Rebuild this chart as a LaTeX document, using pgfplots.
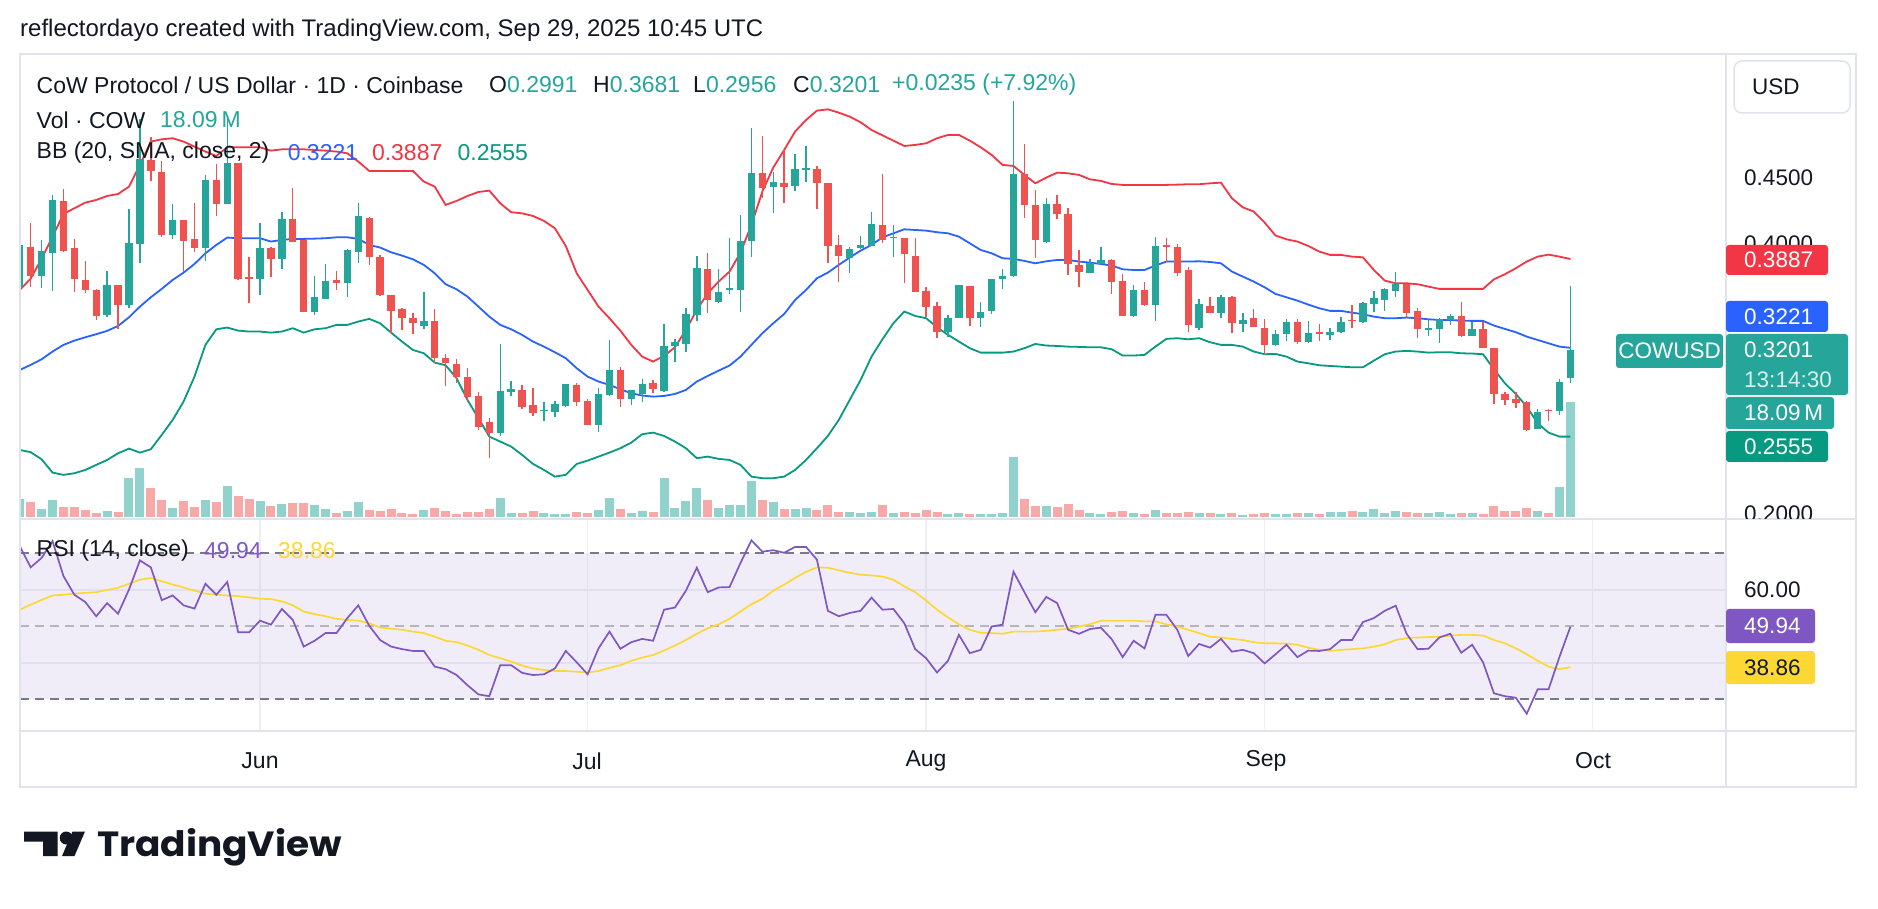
\documentclass[border=0pt]{standalone}
\usepackage{pgfplots}
\pgfplotsset{compat=1.18}
\usepackage{pgfplotstable}
\usepgfplotslibrary{fillbetween}
\usepackage{fontspec}
\setmainfont{Liberation Sans}
\newfontfamily\logofont{Poppins}

\definecolor{tvtext}{HTML}{131722}
\definecolor{cgreen}{HTML}{26A69A}
\definecolor{cred}{HTML}{EF5350}
\definecolor{vgreen}{HTML}{92D2CC}
\definecolor{vred}{HTML}{F7A9A7}
\definecolor{bbup}{HTML}{F23645}
\definecolor{bbmid}{HTML}{2962FF}
\definecolor{bblo}{HTML}{089981}
\definecolor{bbfill}{HTML}{2196F3}
\definecolor{rsic}{HTML}{7E57C2}
\definecolor{rsima}{HTML}{FDD835}
\definecolor{gridc}{HTML}{EEF0F4}
\definecolor{framec}{HTML}{E0E3EB}
\definecolor{hlinec}{HTML}{787B86}

% candles: day index (0 = 1 Jun 2025), open, high, low, close, volume (M)
\pgfplotstableread{
d o h l c v
-22 0.367 0.405 0.364 0.399 2.74
-20 0.376 0.403 0.367 0.3948 1.21
-19 0.3935 0.4365 0.365 0.433 2.64
-14 0.3468 0.380 0.345 0.369 0.90
-12 0.354 0.426 0.352 0.4005 6.17
-11 0.400 0.494 0.3855 0.4635 7.75
-8 0.4068 0.430 0.4035 0.418 1.42
-5 0.397 0.4515 0.3875 0.448 2.64
-3 0.430 0.494 0.430 0.4605 4.85
0 0.3738 0.416 0.362 0.397 2.48
2 0.389 0.424 0.3815 0.4188 2.00
5 0.3493 0.376 0.347 0.360 1.84
6 0.359 0.385 0.3585 0.372 1.21
8 0.3705 0.396 0.3605 0.3955 0.90
9 0.3943 0.431 0.3855 0.421 2.27
15 0.3388 0.3638 0.336 0.3425 1.05
22 0.258 0.325 0.2563 0.2898 3.00
23 0.2893 0.2973 0.286 0.291 0.63
26 0.2745 0.2813 0.2675 0.2758 0.63
27 0.2743 0.2825 0.2705 0.280 0.42
28 0.2788 0.295 0.2775 0.2948 0.42
31 0.2643 0.2918 0.2593 0.2875 1.05
32 0.2868 0.328 0.286 0.3055 3.00
34 0.2835 0.2905 0.2793 0.2905 0.63
35 0.2875 0.2988 0.2818 0.295 0.90
37 0.2898 0.340 0.2888 0.3235 6.17
38 0.3238 0.3285 0.3118 0.3263 1.42
39 0.325 0.3518 0.3188 0.3475 2.48
40 0.3468 0.391 0.3425 0.3818 4.58
42 0.3568 0.3813 0.3555 0.3643 1.42
43 0.3655 0.4048 0.3623 0.3668 1.84
44 0.3655 0.4218 0.3493 0.4025 1.84
45 0.4025 0.4868 0.3905 0.453 5.64
47 0.443 0.4543 0.4235 0.4463 2.27
49 0.4438 0.4675 0.44 0.4563 1.21
50 0.456 0.4735 0.4468 0.4568 1.42
54 0.3898 0.398 0.378 0.396 0.69
55 0.3968 0.406 0.396 0.3993 0.53
56 0.3988 0.4238 0.3988 0.4148 0.69
58 0.4043 0.4143 0.3905 0.4055 0.63
63 0.3343 0.3468 0.33 0.3443 0.42
64 0.3443 0.3693 0.3443 0.3693 0.53
66 0.3443 0.3568 0.3375 0.3493 0.37
67 0.3495 0.374 0.3478 0.374 0.37
68 0.3735 0.381 0.3663 0.376 0.53
69 0.376 0.507 0.3755 0.4525 9.38
72 0.4018 0.4343 0.401 0.4298 1.69
76 0.3785 0.3885 0.3785 0.386 0.53
77 0.385 0.398 0.385 0.388 0.42
80 0.346 0.3693 0.345 0.3655 0.53
82 0.3543 0.4055 0.3425 0.3985 1.05
86 0.3373 0.3588 0.3355 0.3548 0.53
88 0.348 0.3618 0.3443 0.3605 0.37
90 0.3398 0.348 0.3343 0.343 0.26
93 0.3243 0.3355 0.3238 0.3323 0.37
94 0.3323 0.3435 0.3275 0.3413 0.37
96 0.3265 0.3423 0.3255 0.333 0.53
98 0.3318 0.3373 0.328 0.3338 0.69
99 0.3338 0.3455 0.333 0.3413 0.69
101 0.3418 0.3568 0.341 0.356 0.69
102 0.3548 0.3648 0.3493 0.3593 1.21
103 0.358 0.3668 0.35 0.366 0.53
104 0.3648 0.3793 0.3605 0.3698 0.90
107 0.3355 0.3435 0.3313 0.3368 0.53
108 0.336 0.3448 0.3255 0.3438 0.69
109 0.343 0.3473 0.3393 0.346 0.37
111 0.3313 0.3413 0.3313 0.3363 0.53
117 0.2613 0.2763 0.2613 0.2738 0.90
119 0.2745 0.299 0.272 0.2966 4.74
120 0.2991 0.3681 0.2956 0.3201 18.09
}\upc

\pgfplotstableread{
d o h l c v
-21 0.398 0.4155 0.368 0.376 2.27
-18 0.432 0.441 0.394 0.395 1.58
-17 0.397 0.404 0.364 0.3735 1.58
-16 0.373 0.387 0.363 0.3655 1.05
-15 0.3655 0.366 0.343 0.346 0.63
-13 0.3695 0.3695 0.336 0.3545 0.74
-10 0.463 0.4805 0.447 0.4545 4.58
-9 0.454 0.462 0.405 0.407 2.64
-7 0.418 0.418 0.379 0.4025 2.48
-6 0.404 0.4305 0.394 0.397 1.58
-4 0.448 0.460 0.421 0.430 2.27
-2 0.4605 0.4605 0.373 0.3738 3.32
-1 0.375 0.3905 0.356 0.374 2.74
1 0.3973 0.3975 0.375 0.389 1.74
3 0.4188 0.4418 0.4018 0.4018 2.11
4 0.403 0.403 0.349 0.3493 2.11
7 0.373 0.380 0.3655 0.371 0.63
10 0.4198 0.4205 0.3843 0.390 1.05
11 0.3905 0.392 0.361 0.3618 0.90
12 0.3618 0.3618 0.333 0.350 1.21
13 0.351 0.3518 0.3355 0.3448 0.63
14 0.3443 0.3483 0.3325 0.341 0.42
16 0.3423 0.3513 0.3105 0.3143 1.42
17 0.3143 0.3173 0.2935 0.3105 0.90
18 0.310 0.3135 0.2955 0.300 0.42
19 0.300 0.307 0.2818 0.285 0.69
20 0.286 0.2888 0.2605 0.263 0.69
21 0.2668 0.2698 0.2393 0.2585 1.21
24 0.2905 0.2943 0.2763 0.278 0.63
25 0.2793 0.2923 0.2713 0.273 0.90
29 0.2943 0.2955 0.2788 0.2818 0.69
30 0.2823 0.2838 0.2643 0.2643 0.63
33 0.3055 0.3075 0.278 0.2835 1.21
36 0.2955 0.298 0.288 0.2913 0.79
41 0.381 0.393 0.3485 0.358 2.64
46 0.453 0.481 0.4343 0.4423 2.64
48 0.4455 0.4705 0.431 0.443 1.21
51 0.4563 0.4585 0.426 0.446 1.05
52 0.4455 0.4455 0.3855 0.3988 1.84
53 0.3993 0.4068 0.3718 0.3913 0.69
57 0.4143 0.4523 0.4005 0.403 1.84
59 0.4048 0.4048 0.371 0.3923 0.69
60 0.391 0.4048 0.3643 0.3643 0.53
61 0.3648 0.3678 0.3455 0.353 1.05
62 0.3535 0.3568 0.3293 0.3343 0.69
65 0.3685 0.3685 0.3388 0.3443 0.37
70 0.4525 0.4748 0.4198 0.4293 2.79
71 0.4293 0.4405 0.3898 0.403 1.69
73 0.4298 0.4368 0.4185 0.4223 1.48
74 0.4225 0.4268 0.3768 0.3848 2.00
75 0.3843 0.3955 0.3675 0.3793 1.05
78 0.388 0.3888 0.3623 0.3718 0.69
79 0.3723 0.3773 0.3463 0.3463 0.90
81 0.3655 0.3713 0.3535 0.3543 0.37
83 0.3993 0.4048 0.3863 0.398 0.53
84 0.398 0.400 0.3763 0.3785 0.53
85 0.3805 0.3825 0.3343 0.3393 0.69
87 0.3538 0.3605 0.3485 0.3485 0.53
89 0.3605 0.3613 0.333 0.3405 0.53
91 0.3443 0.3513 0.3375 0.3375 0.37
92 0.3368 0.3435 0.3168 0.3243 0.53
95 0.3413 0.3435 0.325 0.3268 0.53
97 0.3338 0.3398 0.3275 0.3325 0.37
100 0.343 0.3543 0.3373 0.3423 0.90
105 0.3698 0.3698 0.3443 0.3485 0.69
106 0.3498 0.3518 0.3298 0.336 0.53
110 0.3463 0.3568 0.3305 0.3313 0.53
112 0.3363 0.3413 0.3218 0.3218 0.37
113 0.3223 0.3223 0.2798 0.2873 1.69
114 0.2873 0.2888 0.2793 0.283 0.90
115 0.2835 0.2893 0.2768 0.2805 0.90
116 0.2813 0.2825 0.26 0.2605 1.42
118 0.2758 0.276 0.2675 0.2745 0.53
}\dnc

% Bollinger bands (20, 2): upper, basis, lower
\pgfplotstableread{
d up mid lo
-22 0.3655 0.3055 0.2455
-21 0.374 0.3093 0.2438
-20 0.389 0.3135 0.2385
-19 0.4055 0.3193 0.2285
-18 0.4225 0.3243 0.2268
-17 0.4268 0.3275 0.228
-16 0.431 0.330 0.2305
-15 0.433 0.3323 0.2343
-14 0.436 0.3348 0.238
-13 0.4375 0.3385 0.243
-12 0.443 0.345 0.2465
-11 0.4593 0.353 0.2435
-10 0.4768 0.360 0.246
-9 0.4785 0.3663 0.2568
-8 0.4793 0.373 0.268
-7 0.4768 0.3785 0.2818
-6 0.473 0.385 0.3005
-5 0.4693 0.393 0.3243
-4 0.466 0.3993 0.336
-3 0.4725 0.4048 0.3373
-2 0.4725 0.4043 0.335
-1 0.4725 0.4043 0.3343
0 0.4725 0.4043 0.3343
1 0.470 0.4018 0.3335
2 0.471 0.403 0.3343
3 0.471 0.4038 0.3368
4 0.471 0.4038 0.3335
5 0.4705 0.404 0.336
6 0.470 0.4043 0.3368
7 0.4693 0.405 0.3393
8 0.468 0.405 0.3393
9 0.4618 0.4038 0.3418
10 0.4548 0.3993 0.3438
11 0.4548 0.3973 0.3405
12 0.4548 0.3938 0.3335
13 0.4548 0.3913 0.3268
14 0.4548 0.3885 0.3205
15 0.4468 0.3843 0.318
16 0.443 0.378 0.311
17 0.4293 0.3698 0.309
18 0.4323 0.366 0.2993
19 0.436 0.3605 0.283
20 0.439 0.353 0.2693
21 0.440 0.3455 0.2555
22 0.4305 0.3393 0.2518
23 0.4238 0.336 0.248
24 0.423 0.3318 0.2418
25 0.421 0.3268 0.235
26 0.4173 0.323 0.2305
27 0.4118 0.3188 0.2255
28 0.3985 0.3143 0.2268
29 0.378 0.3068 0.235
30 0.3655 0.3005 0.2375
31 0.353 0.2968 0.2405
32 0.3443 0.2943 0.2435
33 0.335 0.291 0.2468
34 0.3243 0.288 0.251
35 0.3155 0.2863 0.2573
36 0.3118 0.2855 0.2585
37 0.316 0.286 0.256
38 0.3225 0.2875 0.2518
39 0.3355 0.2905 0.2468
40 0.3505 0.2968 0.2393
41 0.363 0.301 0.2405
42 0.3718 0.305 0.2388
43 0.3793 0.3088 0.238
44 0.3935 0.3155 0.2343
45 0.4143 0.3243 0.2255
46 0.4393 0.333 0.2243
47 0.4573 0.3405 0.2243
48 0.4705 0.3475 0.2255
49 0.4843 0.358 0.2305
50 0.493 0.3655 0.238
51 0.500 0.3743 0.2468
52 0.501 0.3785 0.256
53 0.4985 0.3843 0.268
54 0.4955 0.3898 0.283
55 0.4913 0.395 0.298
56 0.4855 0.3993 0.3155
57 0.4815 0.405 0.3285
58 0.4775 0.408 0.3405
59 0.4735 0.411 0.3493
60 0.4743 0.4105 0.346
61 0.4755 0.410 0.3443
62 0.4793 0.4088 0.3375
63 0.4818 0.408 0.3318
64 0.4818 0.4055 0.3268
65 0.4775 0.4005 0.3218
66 0.4725 0.3955 0.3185
67 0.4668 0.393 0.3185
68 0.4593 0.3893 0.3185
69 0.4585 0.3888 0.3193
70 0.4518 0.3873 0.3218
71 0.4455 0.3855 0.325
72 0.4498 0.387 0.3238
73 0.4535 0.388 0.3235
74 0.453 0.388 0.323
75 0.4518 0.3868 0.3228
76 0.4485 0.386 0.3225
77 0.4473 0.385 0.3225
78 0.445 0.3838 0.321
79 0.4443 0.381 0.3163
80 0.4443 0.3805 0.3163
81 0.4443 0.3805 0.3168
82 0.4443 0.3838 0.323
83 0.4443 0.3868 0.3288
84 0.4445 0.3868 0.3293
85 0.4448 0.3868 0.3285
86 0.4448 0.387 0.3293
87 0.4455 0.3865 0.3263
88 0.446 0.3855 0.3243
89 0.4343 0.3793 0.3243
90 0.4275 0.3755 0.323
91 0.4243 0.3718 0.3193
92 0.416 0.3675 0.3173
93 0.4063 0.3625 0.3175
94 0.4035 0.360 0.3155
95 0.4018 0.3575 0.3118
96 0.3985 0.3545 0.3105
97 0.3943 0.3518 0.309
98 0.3918 0.3498 0.3085
99 0.3918 0.3498 0.308
100 0.3905 0.3485 0.3075
101 0.390 0.3473 0.3075
102 0.3805 0.3455 0.3125
103 0.3725 0.3443 0.3173
104 0.3705 0.3443 0.3193
105 0.3705 0.3448 0.3198
106 0.3698 0.3443 0.3193
107 0.368 0.3435 0.3185
108 0.3663 0.343 0.3188
109 0.3663 0.343 0.3188
110 0.3663 0.3425 0.318
111 0.3663 0.3423 0.3178
112 0.3663 0.3423 0.3173
113 0.3735 0.3388 0.306
114 0.3773 0.3363 0.2955
115 0.3818 0.3338 0.2875
116 0.3868 0.3305 0.278
117 0.3905 0.328 0.2655
118 0.392 0.3255 0.2585
119 0.3905 0.323 0.2555
120 0.3887 0.3221 0.2555
}\bbt

% RSI (14) and its moving average
\pgfplotstableread{
d rsi ma
-22 72.0 54.6
-21 66.2 56.0
-20 68.8 57.3
-19 73.4 58.5
-18 63.8 58.7
-17 58.7 59.0
-16 56.7 59.2
-15 52.8 59.4
-14 56.4 60.0
-13 53.5 60.6
-12 60.1 61.7
-11 68.1 62.8
-10 66.2 63.3
-9 57.2 62.4
-8 58.5 61.5
-7 55.8 60.7
-6 54.9 59.8
-5 61.7 59.0
-4 58.7 58.7
-3 62.2 58.5
-2 48.4 58.3
-1 48.4 58.0
0 51.6 57.6
1 50.5 57.5
2 54.8 56.9
3 51.8 55.8
4 44.5 54.1
5 46.1 53.4
6 48.2 52.8
7 48.2 52.1
8 52.3 51.8
9 55.8 51.6
10 50.2 50.9
11 46.3 49.7
12 44.5 49.4
13 43.8 49.1
14 43.3 48.6
15 43.3 48.2
16 39.0 47.2
17 38.3 46.1
18 36.7 45.7
19 33.9 44.8
20 31.4 43.6
21 30.9 42.2
22 39.4 41.3
23 39.4 40.4
24 37.3 39.3
25 36.7 38.5
26 36.9 38.1
27 38.5 37.8
28 43.3 37.8
29 40.2 37.6
30 36.9 37.4
31 44.0 37.8
32 48.6 38.7
33 43.9 39.4
34 45.7 40.6
35 46.6 41.5
36 46.1 42.2
37 54.6 43.4
38 55.2 44.8
39 59.8 46.3
40 66.1 48.0
41 59.4 49.5
42 60.7 50.6
43 60.8 52.1
44 67.4 54.1
45 73.6 56.1
46 70.5 57.6
47 70.9 59.8
48 70.2 61.5
49 71.8 63.3
50 71.8 65.0
51 68.3 66.2
52 54.3 66.1
53 52.8 65.4
54 53.7 64.7
55 54.3 64.2
56 57.9 64.0
57 54.6 63.7
58 54.8 62.8
59 50.9 61.0
60 43.8 59.4
61 41.3 57.1
62 37.4 54.6
63 40.6 52.5
64 47.7 50.6
65 42.7 49.1
66 43.6 48.3
67 50.0 48.2
68 50.5 48.0
69 65.0 48.6
70 59.4 48.6
71 53.9 48.6
72 58.1 48.8
73 56.4 49.1
74 49.1 49.4
75 48.0 50.0
76 49.3 50.6
77 49.7 51.6
78 46.5 51.6
79 41.6 51.6
80 46.1 51.6
81 44.0 51.4
82 53.2 51.4
83 53.2 50.6
84 49.1 50.0
85 41.9 49.1
86 45.2 48.2
87 44.2 47.2
88 46.6 47.0
89 43.1 46.6
90 43.6 46.3
91 42.7 45.7
92 39.9 45.4
93 42.4 45.4
94 45.0 45.3
95 41.6 45.0
96 43.4 44.2
97 43.3 43.6
98 43.8 43.3
99 46.3 43.6
100 46.3 43.8
101 51.2 44.0
102 52.3 44.5
103 54.3 45.1
104 55.7 46.3
105 48.0 46.8
106 43.8 47.0
107 43.9 47.1
108 47.0 47.2
109 48.0 47.5
110 42.8 47.7
111 45.0 47.7
112 40.2 47.5
113 31.7 46.3
114 30.9 45.4
115 30.5 44.0
116 26.1 42.4
117 32.8 40.6
118 32.8 39.0
119 41.7 38.3
120 49.94 38.86
}\rsit

\pgfplotsset{
  tvaxis/.style={scale only axis, anchor=south west, width=1706pt,
    xmin=-21.98, xmax=134.25, axis line style={draw=none},
    xtick={0,30,61,92,122}, xticklabels={}, yticklabels={},
    major tick length=0pt, xmajorgrids, ymajorgrids,
    major grid style={draw=gridc, line width=1.3pt}},
  ebar/.style 2 args={draw=none, mark=none, forget plot,
    error bars/.cd, y dir=both, y explicit, error mark=none,
    error bar style={draw=#1, line width=#2}},
}
\newcommand\fT{\fontsize{24}{28}\selectfont}
\newcommand\fL{\fontsize{23}{27}\selectfont}
\newcommand\fA{\fontsize{22.5}{26}\selectfont}
\tikzset{lbl/.style={anchor=west, inner sep=0pt, text=tvtext},
  rsidash/.style={line width=2pt, dash pattern=on 9pt off 6pt}}

\begin{document}
\begin{tikzpicture}[x=1pt,y=1pt]
\fill[white] (0,0) rectangle (1878,908);

% ---------------- price pane ----------------
\begin{axis}[tvaxis, at={(20pt,389pt)}, height=465pt,
  ymin=0.1937, ymax=0.5425, ytick={0.2,0.25,0.3,0.35,0.4,0.45,0.5}]
  \addplot[name path=bbU, draw=none, forget plot] table[x=d,y=up]{\bbt};
  \addplot[name path=bbL, draw=none, forget plot] table[x=d,y=lo]{\bbt};
  \addplot[fill=bbfill, fill opacity=0.05, draw=none, forget plot] fill between[of=bbU and bbL];
  % volume
  \addplot[ebar={vgreen}{9pt}] table[x=d, y expr={0.19545+\thisrow{v}*0.0023715}, y error expr={\thisrow{v}*0.0023715}]{\upc};
  \addplot[ebar={vred}{9pt}] table[x=d, y expr={0.19545+\thisrow{v}*0.0023715}, y error expr={\thisrow{v}*0.0023715}]{\dnc};
  % bands
  \addplot[bbup, line width=1.8pt, forget plot] table[x=d,y=up]{\bbt};
  \addplot[bbmid, line width=1.8pt, forget plot] table[x=d,y=mid]{\bbt};
  \addplot[bblo, line width=1.8pt, forget plot] table[x=d,y=lo]{\bbt};
  % wicks
  \addplot[ebar={cgreen}{1.4pt}] table[x=d, y expr={(\thisrow{h}+\thisrow{l})/2}, y error expr={(\thisrow{h}-\thisrow{l})/2}]{\upc};
  \addplot[ebar={cred}{1.4pt}] table[x=d, y expr={(\thisrow{h}+\thisrow{l})/2}, y error expr={(\thisrow{h}-\thisrow{l})/2}]{\dnc};
  % bodies
  \addplot[ebar={cgreen}{7.4pt}] table[x=d, y expr={(\thisrow{o}+\thisrow{c})/2}, y error expr={max(abs(\thisrow{c}-\thisrow{o})/2,0.0004)}]{\upc};
  \addplot[ebar={cred}{7.4pt}] table[x=d, y expr={(\thisrow{o}+\thisrow{c})/2}, y error expr={max(abs(\thisrow{c}-\thisrow{o})/2,0.0004)}]{\dnc};
\end{axis}

% ---------------- RSI pane ----------------
\begin{axis}[tvaxis, at={(20pt,177pt)}, height=212pt,
  ymin=21.37, ymax=79.45, ytick={40,60}]
  \fill[rsic, fill opacity=0.1] (axis cs:-30,30) rectangle (axis cs:140,70);
  \draw[hlinec, rsidash] (axis cs:-21.98,70) -- (axis cs:134.25,70);
  \draw[hlinec!55, rsidash] (axis cs:-21.98,50) -- (axis cs:134.25,50);
  \draw[hlinec, rsidash] (axis cs:-21.98,30) -- (axis cs:134.25,30);
  \addplot[rsima, line width=1.7pt] table[x=d,y=ma]{\rsit};
  \addplot[rsic, line width=1.7pt] table[x=d,y=rsi]{\rsit};
\end{axis}

% ---------------- frame ----------------
\draw[framec, line width=2pt] (20,121) rectangle (1856,854);
\draw[framec, line width=2pt] (1726,121) -- (1726,854);
\draw[framec, line width=2.6pt] (20,389) -- (1856,389);
\draw[framec, line width=2pt] (20,177) -- (1856,177);

% ---------------- title & legends ----------------
\node[lbl] at (20,878) {\fT reflectordayo created with TradingView.com, Sep 29, 2025 10:45 UTC};
\node[lbl] at (36.5,823) {\fL CoW Protocol / US Dollar · 1D · Coinbase};
\node[lbl] at (489,823) {\fL O\textcolor{cgreen}{0.2991}};
\node[lbl] at (593,823) {\fL H\textcolor{cgreen}{0.3681}};
\node[lbl] at (693,823) {\fL L\textcolor{cgreen}{0.2956}};
\node[lbl] at (793,823) {\fL C\textcolor{cgreen}{0.3201}};
\node[lbl, text=cgreen] at (892,823) {\fL +0.0235 (+7.92\%)};
\node[lbl] at (36.5,788) {\fL Vol · COW};
\node[lbl, text=cgreen] at (160,788) {\fL 18.09\,M};
\node[lbl] at (36.5,755) {\fL BB (20, SMA, close, 2)};
\node[lbl, text=bbmid] at (287.6,755) {\fL 0.3221};
\node[lbl, text=bbup] at (371.8,755) {\fL 0.3887};
\node[lbl, text=bblo] at (457.4,755) {\fL 0.2555};
\node[lbl] at (36.5,357) {\fL RSI (14, close)};
\node[lbl, text=rsic] at (204,357) {\fL 49.94};
\node[lbl, text=rsima] at (278,357) {\fL 38.86};

% ---------------- time axis ----------------
\foreach \xx/\mm in {260/Jun, 587/Jul, 926/Aug, 1266/Sep, 1593/Oct}
  \node[anchor=center, inner sep=0pt, text=tvtext] at (\xx,147) {\fL \mm};

% ---------------- right price scale ----------------
\draw[framec, line width=1.5pt, fill=white, rounded corners=8pt] (1734,795) rectangle (1850,847);
\node[lbl] at (1752,821) {\fA USD};
\begin{scope}
  \clip (1727,389) rectangle (1856,853);
  \node[lbl] at (1744,730.7) {\fA 0.4500};
  \node[lbl] at (1744,664) {\fA 0.4000};
  \node[lbl] at (1744,394) {\fA 0.2000};
\end{scope}
\node[lbl] at (1744,318) {\fA 60.00};

% value boxes
\fill[bbup, rounded corners=3pt] (1726,633) rectangle (1828,663);
\node[lbl, text=white] at (1744,648) {\fA 0.3887};
\fill[bbmid, rounded corners=3pt] (1726,576) rectangle (1828,607);
\node[lbl, text=white] at (1744,591.5) {\fA 0.3221};
\fill[cgreen, rounded corners=3pt] (1726,513) rectangle (1848,574);
\node[lbl, text=white] at (1744,558) {\fA 0.3201};
\node[lbl, text=white!82!cgreen] at (1744,528) {\fA 13:14:30};
\fill[cgreen, rounded corners=3pt] (1726,479) rectangle (1834,511);
\node[lbl, text=white] at (1744,495) {\fA 18.09\,M};
\fill[bblo, rounded corners=3pt] (1726,446) rectangle (1828,477);
\node[lbl, text=white] at (1744,461.5) {\fA 0.2555};
\fill[rsic, rounded corners=3pt] (1726,265) rectangle (1815,299);
\node[lbl, text=white] at (1744,282) {\fA 49.94};
\fill[rsima, rounded corners=3pt] (1726,224) rectangle (1815,257);
\node[lbl] at (1744,240.5) {\fA 38.86};
% symbol tag
\fill[cgreen, rounded corners=3pt] (1616,540) rectangle (1723,574);
\node[anchor=center, inner sep=0pt, text=white] at (1669.5,557) {\fA COWUSD};

% ---------------- logo ----------------
\fill[tvtext] (24,76.5) -- (57.5,76.5) -- (57.5,52) -- (43,52) -- (43,66.5) -- (24,66.5) -- cycle;
\fill[tvtext] (66.2,70) circle (6.5);
\fill[tvtext] (72.5,76.5) -- (85,76.5) -- (74.5,52) -- (62,52) -- cycle;
\node[anchor=base west, inner sep=0pt, text=tvtext] at (97,52) {\scalebox{1.07}[1]{\logofont\bfseries\fontsize{35}{39}\selectfont TradingView}};

\pgfresetboundingbox
\useasboundingbox (0,0) rectangle (1878,908);
\end{tikzpicture}
\end{document}
